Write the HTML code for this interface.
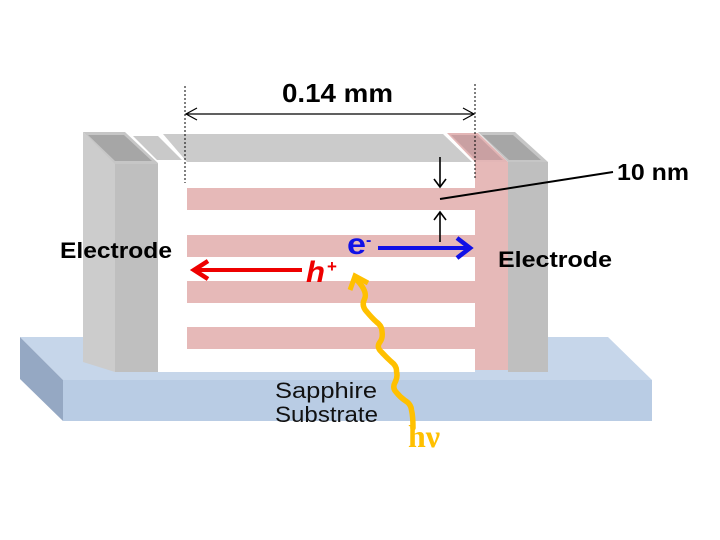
<!DOCTYPE html>
<html>
<head>
<meta charset="utf-8">
<style>
  html,body{margin:0;padding:0;background:#ffffff;}
  svg{display:block;}
  text{font-family:"Liberation Sans", Arial, sans-serif;}
</style>
</head>
<body>
<svg width="720" height="540" viewBox="0 0 720 540" xmlns="http://www.w3.org/2000/svg">
  <rect x="0" y="0" width="720" height="540" fill="#ffffff"/>

  <!-- Substrate -->
  <polygon points="20,337 608,337 652,380 63,380" fill="#c6d6ea"/>
  <polygon points="20,337 63,380 63,421 20,379" fill="#95a8c3"/>
  <rect x="63" y="380" width="589" height="41" fill="#b9cce4"/>

  <!-- Left electrode -->
  <polygon points="83,132 115,163 115,372 83,362" fill="#cccccc"/>
  <rect x="115" y="163" width="43" height="209" fill="#bfbfbf"/>
  <polygon points="83,132 125,132 159,164 115,164" fill="#c6c6c6"/>
  <polygon points="88,135 124,135 152,161 115,161" fill="#a6a6a6"/>

  <!-- white strip + stack front -->
  <rect x="158" y="162" width="317" height="210" fill="#ffffff"/>

  <!-- top face pieces -->
  <polygon points="133,136 158,136 182,160 157,160" fill="#c9c9c9"/>
  <polygon points="163,134 443,134 472,162 187,162" fill="#cbcbcb"/>

  <!-- pink stripes -->
  <rect x="187" y="188" width="288" height="22" fill="#e6b9b8"/>
  <rect x="187" y="235" width="288" height="22" fill="#e6b9b8"/>
  <rect x="187" y="281" width="288" height="22" fill="#e6b9b8"/>
  <rect x="187" y="327" width="288" height="22" fill="#e6b9b8"/>

  <!-- Right pink contact and electrode -->
  <polygon points="447,133 478,133 508,162 475,162" fill="#e3b6b6"/>
  <polygon points="451,135 477,135 503,160 476,160" fill="#c9a0a2"/>
  <rect x="475" y="162" width="33" height="208" fill="#e6b9b8"/>
  <polygon points="478,132 515,132 548,162 508,162" fill="#c6c6c6"/>
  <polygon points="482,135 513,135 541,160 509,160" fill="#a6a6a6"/>
  <rect x="508" y="162" width="40" height="210" fill="#bfbfbf"/>

  <!-- dimension lines -->
  <line x1="185" y1="86" x2="185" y2="183" stroke="#000" stroke-width="1" stroke-dasharray="2,2"/>
  <line x1="475" y1="84" x2="475" y2="180" stroke="#000" stroke-width="1" stroke-dasharray="2,2"/>
  <line x1="186" y1="114" x2="474" y2="114" stroke="#000" stroke-width="1.2"/>
  <polyline points="197,108 186,114 197,120" fill="none" stroke="#000" stroke-width="1.2"/>
  <polyline points="463,108 474,114 463,120" fill="none" stroke="#000" stroke-width="1.2"/>
  <text x="282" y="102" font-size="26" font-weight="bold" fill="#000" textLength="111" lengthAdjust="spacingAndGlyphs">0.14 mm</text>

  <!-- 10 nm arrows -->
  <line x1="440" y1="157" x2="440" y2="186" stroke="#000" stroke-width="1.6"/>
  <polyline points="434,179 440,187 446,179" fill="none" stroke="#000" stroke-width="1.6"/>
  <line x1="440" y1="242" x2="440" y2="213" stroke="#000" stroke-width="1.6"/>
  <polyline points="434,220 440,212 446,220" fill="none" stroke="#000" stroke-width="1.6"/>
  <line x1="440" y1="199" x2="613" y2="172" stroke="#000" stroke-width="2"/>
  <text x="617" y="180" font-size="23" font-weight="bold" fill="#000" textLength="72" lengthAdjust="spacingAndGlyphs">10 nm</text>

  <!-- Electrode labels -->
  <text x="60" y="258" font-size="22" font-weight="bold" fill="#000" textLength="112" lengthAdjust="spacingAndGlyphs">Electrode</text>
  <text x="498" y="267" font-size="22" font-weight="bold" fill="#000" textLength="114" lengthAdjust="spacingAndGlyphs">Electrode</text>

  <!-- electron arrow -->
  <line x1="378" y1="248" x2="468" y2="248" stroke="#1010e6" stroke-width="4"/>
  <polyline points="457,238 470,248 457,258" fill="none" stroke="#1010e6" stroke-width="4.5" stroke-linejoin="miter"/>
  <text x="347" y="254" font-size="30" font-weight="bold" fill="#1010e6" textLength="19" lengthAdjust="spacingAndGlyphs">e</text>
  <text x="366" y="245" font-size="16" font-weight="bold" fill="#1010e6">-</text>

  <!-- hole arrow -->
  <line x1="196" y1="270" x2="302" y2="270" stroke="#ee0000" stroke-width="4"/>
  <polyline points="208,261 194,270 208,279" fill="none" stroke="#ee0000" stroke-width="4.5"/>
  <text x="306" y="282" font-size="30" font-weight="bold" font-style="italic" fill="#ee0000" textLength="19" lengthAdjust="spacingAndGlyphs">h</text>
  <text x="327" y="272" font-size="17" font-weight="bold" fill="#ee0000">+</text>

  <!-- Sapphire substrate label -->
  <text x="275" y="398" font-size="22" fill="#111" textLength="102" lengthAdjust="spacingAndGlyphs">Sapphire</text>
  <text x="275" y="422" font-size="22" fill="#111" textLength="103" lengthAdjust="spacingAndGlyphs">Substrate</text>

  <!-- photon wave -->
  <path d="M357,280 Q368,292 364.5,299 Q361,306 367,312 Q372,318 376.5,322 Q382,326 382,331.5 Q383,338 380,342 Q376,347 381.5,352 Q386,357 391,361.5 Q397,366 396.5,371.5 Q398,377 395,382.5 Q392,388 396.5,392.5 Q400,397 405,400.5 Q411,404 411.5,410 Q413,416 413,428"
        fill="none" stroke="#ffc000" stroke-width="5.5" stroke-linejoin="round" stroke-linecap="round"/>
  <polyline points="350,290 355,276 368,283" fill="none" stroke="#ffc000" stroke-width="5" stroke-linejoin="miter"/>
  <text x="408" y="447" font-size="32" font-weight="bold" fill="#ffc000" style="font-family:'Liberation Serif', serif;">hν</text>
</svg>
</body>
</html>
